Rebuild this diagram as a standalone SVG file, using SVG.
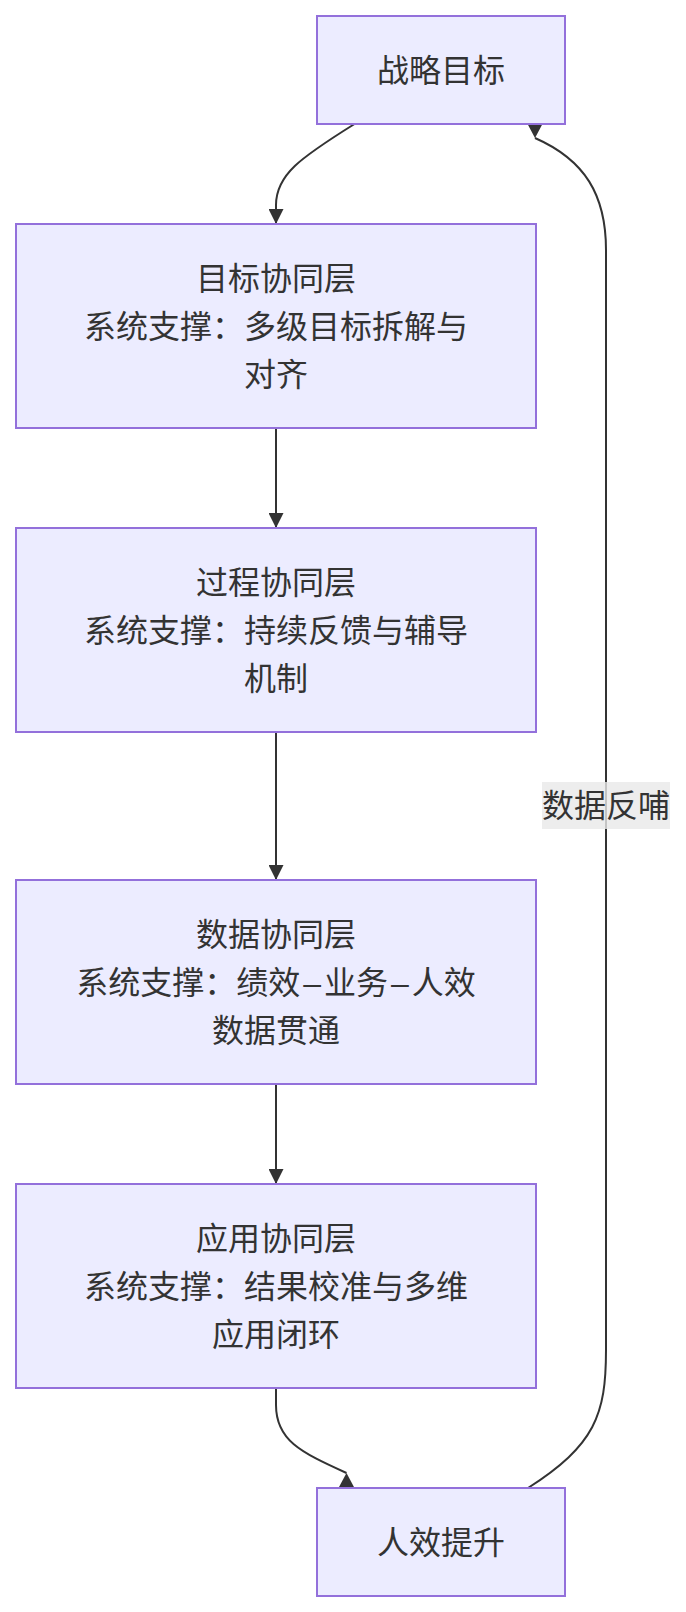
<svg xmlns="http://www.w3.org/2000/svg" width="686" height="1612" viewBox="0 0 686 1612">
<style>
.node rect{fill:#ECECFF;stroke:#9370DB;stroke-width:2}
text{font-family:"Liberation Sans","Noto Sans CJK SC",sans-serif;font-size:32px;fill:#333333;text-anchor:middle}
.edge{fill:none;stroke:#333333;stroke-width:2}
.head{fill:#333333}
</style>
<defs>
<marker id="arrow" viewBox="0 0 10 10" refX="10" refY="5" markerUnits="userSpaceOnUse" markerWidth="15" markerHeight="15" orient="auto">
<path class="head" d="M0,0 L10,5 L0,10 z"/>
</marker>
<marker id="arrow-up" viewBox="0 0 10 10" refX="10" refY="5" markerUnits="userSpaceOnUse" markerWidth="15" markerHeight="16" orient="270" preserveAspectRatio="none">
<path class="head" d="M0,0 L10,5 L0,10 z"/>
</marker>
<marker id="arrow-down" viewBox="0 0 10 10" refX="10" refY="5" markerUnits="userSpaceOnUse" markerWidth="15" markerHeight="16" orient="90" preserveAspectRatio="none">
<path class="head" d="M0,0 L10,5 L0,10 z"/>
</marker>
</defs>
<g id="connectors">
<path class="edge" d="M354.5,124 C300,158 276,175 276,205 L276,224" marker-end="url(#arrow)"/>
<path class="edge" d="M276,428 L276,528" marker-end="url(#arrow)"/>
<path class="edge" d="M276,732 L276,880" marker-end="url(#arrow)"/>
<path class="edge" d="M276,1084 L276,1184" marker-end="url(#arrow)"/>
<path class="edge" d="M276,1388 L276,1405 C276,1440 300,1452 346.5,1473" marker-end="url(#arrow-up)"/>
<path class="edge" d="M528,1488 C595,1445 606,1415 606,1350 L606,250 C606,195 585,160 535,138" marker-end="url(#arrow-down)"/>
<g id="edge-label">
<rect x="542" y="782" width="128" height="47" fill="#e8e8e8" fill-opacity="0.8"/>
<text x="606" y="817">数据反哺</text>
</g>
</g>
<g id="node-strategy" class="node">
<rect x="317" y="16" width="248" height="108"/>
<text x="441" y="82">战略目标</text>
</g>
<g id="node-goal" class="node">
<rect x="16" y="224" width="520" height="204"/>
<text x="276" y="290">目标协同层</text>
<text x="276" y="338">系统支撑：多级目标拆解与</text>
<text x="276" y="386">对齐</text>
</g>
<g id="node-process" class="node">
<rect x="16" y="528" width="520" height="204"/>
<text x="276" y="594">过程协同层</text>
<text x="276" y="642">系统支撑：持续反馈与辅导</text>
<text x="276" y="690">机制</text>
</g>
<g id="node-data" class="node">
<rect x="16" y="880" width="520" height="204"/>
<text x="276" y="946">数据协同层</text>
<text x="276" y="994">系统支撑：绩效<tspan dx="3">–</tspan><tspan dx="3">业务</tspan><tspan dx="3">–</tspan><tspan dx="3">人效</tspan></text>
<text x="276" y="1042">数据贯通</text>
</g>
<g id="node-apply" class="node">
<rect x="16" y="1184" width="520" height="204"/>
<text x="276" y="1250">应用协同层</text>
<text x="276" y="1298">系统支撑：结果校准与多维</text>
<text x="276" y="1346">应用闭环</text>
</g>
<g id="node-result" class="node">
<rect x="317" y="1488" width="248" height="108"/>
<text x="441" y="1554">人效提升</text>
</g>
</svg>
